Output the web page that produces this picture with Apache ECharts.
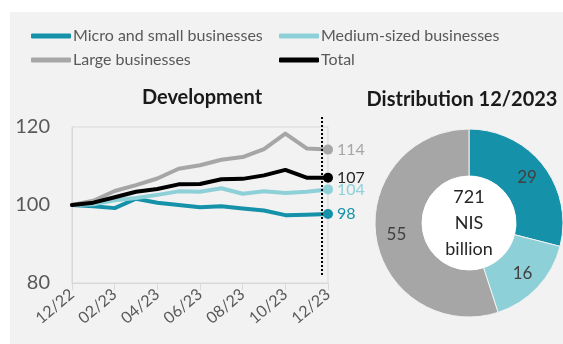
<!DOCTYPE html>
<html><head><meta charset="utf-8">
<script src="https://cdn.jsdelivr.net/npm/echarts@6/dist/echarts.min.js"></script>
<style>html,body{margin:0;padding:0;background:#fff;}#c{width:563px;height:344px;}</style>
</head><body><div id="c"></div>
<script>
const months = ['12/22','01/23','02/23','03/23','04/23','05/23','06/23','07/23','08/23','09/23','10/23','11/23','12/23'];
const microSmall = [100, 99.7, 99.2, 101.6, 100.6, 100, 99.4, 99.7, 99.1, 98.6, 97.4, 97.5, 97.7];
const mediumSized = [100, 100.2, 101.2, 101.8, 102.6, 103.5, 103.4, 104.3, 102.9, 103.5, 103.1, 103.4, 104];
const large = [100, 101.1, 103.6, 105.1, 106.8, 109.3, 110.2, 111.6, 112.3, 114.3, 118.3, 114.5, 114.2];
const total = [100, 100.6, 102, 103.4, 104.1, 105.3, 105.4, 106.6, 106.7, 107.6, 109.0, 107, 107];
const endLabels = ['98', '104', '114', '107'];
const yTicks = [80, 100, 120];
const pieNames = ['Micro and small businesses', 'Medium-sized businesses', 'Large businesses'];
const pieValues = [29, 16, 55];
const centerText = ['721', 'NIS', 'billion'];

const FONT = 'Lato';
const colors = ['#1592a9', '#8dd0d8', '#a6a6a6', '#000000'];
const labelColors = ['#1592a9', '#8dd0d8', '#a6a6a6', '#262626'];
const names = ['Micro and small businesses', 'Medium-sized businesses', 'Large businesses', 'Total'];
const seriesData = [microSmall, mediumSized, large, total];

const chart = echarts.init(document.getElementById('c'), null, {renderer: 'canvas'});

const lineSeries = seriesData.map((arr, si) => ({
  name: names[si],
  type: 'line',
  data: arr.map((v, i) => i === arr.length - 1 ? {
    value: v,
    label: {show: true, position: 'right', distance: 4, formatter: endLabels[si],
      color: labelColors[si], fontSize: 16, fontFamily: FONT}
  } : v),
  symbol: 'circle',
  symbolSize: (v, p) => p.dataIndex === arr.length - 1 ? 10 : 0,
  showAllSymbol: true,
  lineStyle: {width: 4, color: colors[si], cap: 'round', join: 'round'},
  itemStyle: {color: colors[si]},
  emphasis: {disabled: true},
  z: si === 3 ? 6 : 3 + si,
  animation: false
}));

const legendCommon = {
  orient: 'vertical', itemWidth: 40, itemHeight: 5, icon: 'roundRect', itemGap: 8,
  textStyle: {fontSize: 16, color: '#595959', fontFamily: FONT, padding: [0, 0, 0, -3]},
  selectedMode: false
};

chart.setOption({
  animation: false,
  title: [
    {text: 'Development', left: 197, top: 83, textAlign: 'center',
      textStyle: {fontSize: 20, fontWeight: 'bold', color: '#1a1a1a', fontFamily: FONT}},
    {text: 'Distribution 12/2023', left: 457, top: 85, textAlign: 'center',
      textStyle: {fontSize: 20, fontWeight: 'bold', color: '#1a1a1a', fontFamily: FONT}}
  ],
  legend: [
    Object.assign({left: 26, top: 23, data: [names[0], names[2]]}, legendCommon),
    Object.assign({left: 274, top: 23, data: [names[1], names[3]]}, legendCommon)
  ],
  grid: {left: 72, right: 235, top: 127, bottom: 61, show: true, borderColor: '#d9d9d9', borderWidth: 1},
  xAxis: {
    type: 'category', data: months, boundaryGap: false,
    axisLine: {show: true, lineStyle: {color: '#d9d9d9', width: 1}},
    axisTick: {show: true, interval: 1, length: 7, lineStyle: {color: '#d9d9d9'}},
    axisLabel: {interval: 1, rotate: 40, fontSize: 16, color: '#595959', fontFamily: FONT, margin: 9},
    splitLine: {show: false}
  },
  yAxis: {
    type: 'value', min: yTicks[0], max: yTicks[yTicks.length - 1], interval: 20,
    axisLine: {show: true, lineStyle: {color: '#d9d9d9'}},
    axisTick: {show: false},
    axisLabel: {fontSize: 20, color: '#595959', fontFamily: FONT, margin: 22},
    splitLine: {show: false}
  },
  series: lineSeries.concat([{
    type: 'pie',
    center: [469, 223],
    radius: [47, 94],
    startAngle: 90,
    clockwise: true,
    data: pieValues.map((v, i) => ({value: v, name: pieNames[i], itemStyle: {color: colors[i]}})),
    itemStyle: {borderColor: '#f2f2f2', borderWidth: 1},
    label: {show: true, position: 'inside', formatter: '{c}', color: '#404040', fontSize: 17, fontFamily: FONT},
    labelLine: {show: false},
    emphasis: {disabled: true},
    silent: true
  }, {
    type: 'pie',
    center: [469, 223],
    radius: [0, 47],
    data: [{value: 1, name: 'center', itemStyle: {color: '#ffffff'}}],
    label: {show: true, position: 'center', formatter: centerText.join('\n'),
      color: '#262626', fontSize: 18, lineHeight: 26, fontFamily: FONT},
    labelLine: {show: false},
    emphasis: {disabled: true},
    silent: true
  }])
});

// dotted vertical reference line just before last month
const p11 = chart.convertToPixel({xAxisIndex: 0, yAxisIndex: 0}, [11, 120]);
const p12 = chart.convertToPixel({xAxisIndex: 0, yAxisIndex: 0}, [12, 80]);
const xd = p11[0] + 0.72 * (p12[0] - p11[0]);
chart.setOption({
  graphic: [
    {type: 'rect', left: 10, top: 12, shape: {width: 553, height: 332}, style: {fill: '#f2f2f2'}, z: -10, silent: true},
    {type: 'line', shape: {x1: xd, y1: p11[1] - 10, x2: xd, y2: p12[1] - 8},
      style: {stroke: '#000', lineWidth: 2, lineDash: [2, 2]}, z: 10, silent: true}
  ]
});
</script></body></html>
